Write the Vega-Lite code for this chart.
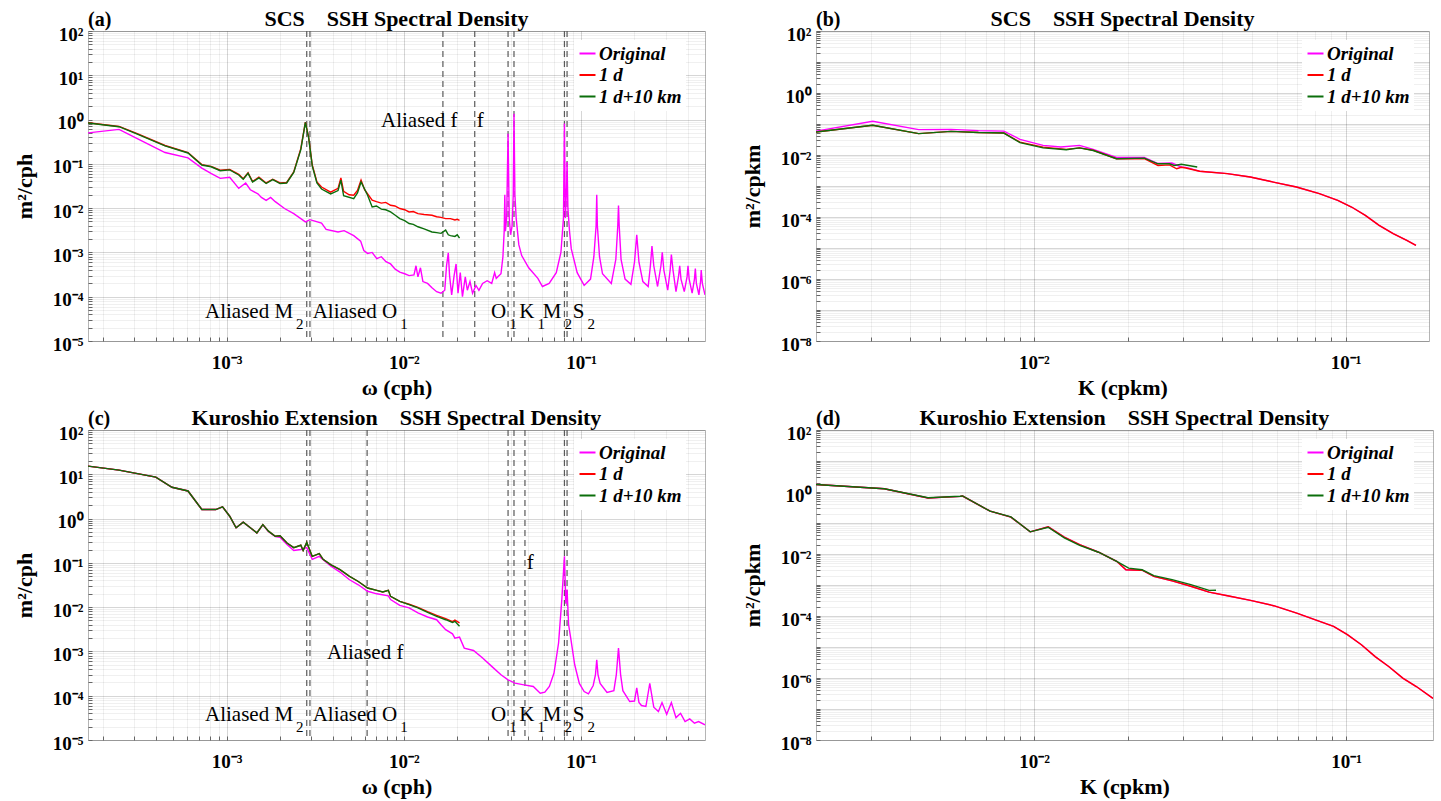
{
"$schema": "https://vega.github.io/schema/vega-lite/v6.json",
"background": "white",
"padding": {"left": 12, "top": 7, "right": 5, "bottom": 5},
"datasets": {
"aO": [{"freq":1.65e-4,"psd":0.50},{"freq":2.47e-4,"psd":0.60},{"freq":3.13e-4,"psd":0.37},{"freq":4.49e-4,"psd":0.18},{"freq":6.05e-4,"psd":0.136},{"freq":7.24e-4,"psd":0.080},{"freq":8.2e-4,"psd":0.060},{"freq":9.2e-4,"psd":0.047},{"freq":1.04e-3,"psd":0.050},{"freq":1.17e-3,"psd":0.028},{"freq":1.28e-3,"psd":0.037},{"freq":1.36e-3,"psd":0.026},{"freq":1.50e-3,"psd":0.021},{"freq":1.57e-3,"psd":0.0175},{"freq":1.67e-3,"psd":0.015},{"freq":1.77e-3,"psd":0.0175},{"freq":1.88e-3,"psd":0.014},{"freq":2.12e-3,"psd":0.0098},{"freq":2.39e-3,"psd":0.0075},{"freq":2.62e-3,"psd":0.0058},{"freq":2.78e-3,"psd":0.0049},{"freq":2.95e-3,"psd":0.0055},{"freq":3.04e-3,"psd":0.0053},{"freq":3.43e-3,"psd":0.0046},{"freq":3.64e-3,"psd":0.0033},{"freq":4.25e-3,"psd":0.0029},{"freq":4.6e-3,"psd":0.0031},{"freq":5.21e-3,"psd":0.0024},{"freq":5.7e-3,"psd":0.0018},{"freq":5.94e-3,"psd":0.0011},{"freq":6.24e-3,"psd":0.00095},{"freq":6.62e-3,"psd":0.0010},{"freq":7.03e-3,"psd":0.00072},{"freq":7.46e-3,"psd":0.0008},{"freq":7.92e-3,"psd":0.00062},{"freq":8.41e-3,"psd":0.00055},{"freq":8.93e-3,"psd":0.00042},{"freq":9.48e-3,"psd":0.00036},{"freq":1.01e-2,"psd":0.00033},{"freq":1.07e-2,"psd":0.0003},{"freq":1.14e-2,"psd":0.00031},{"freq":1.17e-2,"psd":0.0005},{"freq":1.2e-2,"psd":0.00028},{"freq":1.24e-2,"psd":0.00045},{"freq":1.28e-2,"psd":0.00022},{"freq":1.36e-2,"psd":0.0002},{"freq":1.44e-2,"psd":0.00016},{"freq":1.53e-2,"psd":0.00013},{"freq":1.62e-2,"psd":0.00012},{"freq":1.70e-2,"psd":0.00014},{"freq":1.74e-2,"psd":0.0005},{"freq":1.78e-2,"psd":0.00098},{"freq":1.81e-2,"psd":0.0003},{"freq":1.86e-2,"psd":0.00011},{"freq":1.92e-2,"psd":0.0003},{"freq":1.97e-2,"psd":0.00055},{"freq":2.02e-2,"psd":0.00012},{"freq":2.08e-2,"psd":0.00035},{"freq":2.14e-2,"psd":0.0001},{"freq":2.22e-2,"psd":0.00028},{"freq":2.28e-2,"psd":0.00014},{"freq":2.36e-2,"psd":0.00022},{"freq":2.44e-2,"psd":0.00012},{"freq":2.55e-2,"psd":0.00018},{"freq":2.65e-2,"psd":0.00014},{"freq":2.78e-2,"psd":0.0002},{"freq":2.95e-2,"psd":0.00023},{"freq":3.13e-2,"psd":0.0002},{"freq":3.25e-2,"psd":0.00035},{"freq":3.32e-2,"psd":0.00026},{"freq":3.53e-2,"psd":0.00033},{"freq":3.62e-2,"psd":0.0008},{"freq":3.68e-2,"psd":0.003},{"freq":3.71e-2,"psd":0.02},{"freq":3.74e-2,"psd":0.003},{"freq":3.80e-2,"psd":0.006},{"freq":3.87e-2,"psd":0.48},{"freq":3.93e-2,"psd":0.006},{"freq":4.0e-2,"psd":0.0025},{"freq":4.08e-2,"psd":0.004},{"freq":4.14e-2,"psd":0.02},{"freq":4.18e-2,"psd":1.36},{"freq":4.23e-2,"psd":0.02},{"freq":4.30e-2,"psd":0.006},{"freq":4.45e-2,"psd":0.0015},{"freq":4.62e-2,"psd":0.00085},{"freq":5.06e-2,"psd":0.00045},{"freq":5.7e-2,"psd":0.00026},{"freq":6.05e-2,"psd":0.00017},{"freq":6.6e-2,"psd":0.0002},{"freq":7.24e-2,"psd":0.00035},{"freq":7.69e-2,"psd":0.001},{"freq":7.95e-2,"psd":0.006},{"freq":8.05e-2,"psd":0.81},{"freq":8.15e-2,"psd":0.006},{"freq":8.28e-2,"psd":0.03},{"freq":8.33e-2,"psd":0.11},{"freq":8.42e-2,"psd":0.01},{"freq":8.6e-2,"psd":0.003},{"freq":8.8e-2,"psd":0.0012},{"freq":9.5e-2,"psd":0.00035},{"freq":0.104,"psd":0.00018},{"freq":0.113,"psd":0.00025},{"freq":0.118,"psd":0.0008},{"freq":0.1215,"psd":0.004},{"freq":0.1225,"psd":0.02},{"freq":0.1235,"psd":0.004},{"freq":0.127,"psd":0.0008},{"freq":0.132,"psd":0.00033},{"freq":0.148,"psd":0.0002},{"freq":0.157,"psd":0.0007},{"freq":0.161,"psd":0.004},{"freq":0.1625,"psd":0.0115},{"freq":0.164,"psd":0.004},{"freq":0.168,"psd":0.0007},{"freq":0.177,"psd":0.00025},{"freq":0.191,"psd":0.00019},{"freq":0.200,"psd":0.0006},{"freq":0.206,"psd":0.0025},{"freq":0.212,"psd":0.0006},{"freq":0.223,"psd":0.00022},{"freq":0.239,"psd":0.00017},{"freq":0.246,"psd":0.0005},{"freq":0.251,"psd":0.0014},{"freq":0.257,"psd":0.0005},{"freq":0.270,"psd":0.00017},{"freq":0.282,"psd":0.0005},{"freq":0.287,"psd":0.001},{"freq":0.293,"psd":0.0004},{"freq":0.308,"psd":0.00014},{"freq":0.318,"psd":0.0004},{"freq":0.323,"psd":0.0009},{"freq":0.330,"psd":0.0004},{"freq":0.343,"psd":0.00013},{"freq":0.355,"psd":0.0003},{"freq":0.360,"psd":0.0005},{"freq":0.366,"psd":0.00025},{"freq":0.382,"psd":0.00013},{"freq":0.396,"psd":0.00028},{"freq":0.401,"psd":0.0005},{"freq":0.407,"psd":0.00025},{"freq":0.423,"psd":0.00012},{"freq":0.436,"psd":0.00025},{"freq":0.441,"psd":0.00043},{"freq":0.447,"psd":0.0002},{"freq":0.462,"psd":0.00011},{"freq":0.472,"psd":0.00022},{"freq":0.476,"psd":0.0004},{"freq":0.483,"psd":0.0002},{"freq":0.5,"psd":0.00011}],
"aR": [{"freq":1.65e-4,"psd":0.85},{"freq":2.47e-4,"psd":0.70},{"freq":3.13e-4,"psd":0.48},{"freq":4.49e-4,"psd":0.26},{"freq":6.05e-4,"psd":0.18},{"freq":7.24e-4,"psd":0.096},{"freq":8.17e-4,"psd":0.088},{"freq":9.2e-4,"psd":0.072},{"freq":1.04e-3,"psd":0.075},{"freq":1.17e-3,"psd":0.058},{"freq":1.24e-3,"psd":0.046},{"freq":1.32e-3,"psd":0.063},{"freq":1.40e-3,"psd":0.040},{"freq":1.52e-3,"psd":0.050},{"freq":1.67e-3,"psd":0.037},{"freq":1.82e-3,"psd":0.045},{"freq":2.0e-3,"psd":0.037},{"freq":2.18e-3,"psd":0.038},{"freq":2.39e-3,"psd":0.066},{"freq":2.62e-3,"psd":0.22},{"freq":2.78e-3,"psd":0.88},{"freq":2.90e-3,"psd":0.40},{"freq":3.04e-3,"psd":0.094},{"freq":3.23e-3,"psd":0.039},{"freq":3.43e-3,"psd":0.030},{"freq":3.86e-3,"psd":0.023},{"freq":4.25e-3,"psd":0.028},{"freq":4.41e-3,"psd":0.048},{"freq":4.57e-3,"psd":0.024},{"freq":4.91e-3,"psd":0.020},{"freq":5.21e-3,"psd":0.0195},{"freq":5.47e-3,"psd":0.025},{"freq":5.73e-3,"psd":0.043},{"freq":6.0e-3,"psd":0.026},{"freq":6.62e-3,"psd":0.0151},{"freq":7.0e-3,"psd":0.0140},{"freq":7.46e-3,"psd":0.013},{"freq":7.9e-3,"psd":0.0135},{"freq":8.41e-3,"psd":0.0116},{"freq":8.9e-3,"psd":0.0112},{"freq":9.48e-3,"psd":0.0098},{"freq":1.01e-2,"psd":0.0092},{"freq":1.07e-2,"psd":0.0082},{"freq":1.13e-2,"psd":0.0084},{"freq":1.20e-2,"psd":0.0075},{"freq":1.30e-2,"psd":0.0072},{"freq":1.44e-2,"psd":0.0069},{"freq":1.53e-2,"psd":0.0064},{"freq":1.62e-2,"psd":0.0062},{"freq":1.72e-2,"psd":0.0058},{"freq":1.83e-2,"psd":0.0058},{"freq":1.94e-2,"psd":0.0054},{"freq":2.0e-2,"psd":0.0056},{"freq":2.06e-2,"psd":0.0053}],
"aG": [{"freq":1.65e-4,"psd":0.84},{"freq":2.47e-4,"psd":0.69},{"freq":3.13e-4,"psd":0.47},{"freq":4.49e-4,"psd":0.255},{"freq":6.05e-4,"psd":0.176},{"freq":7.24e-4,"psd":0.094},{"freq":8.17e-4,"psd":0.086},{"freq":9.2e-4,"psd":0.070},{"freq":1.04e-3,"psd":0.073},{"freq":1.17e-3,"psd":0.056},{"freq":1.24e-3,"psd":0.045},{"freq":1.32e-3,"psd":0.061},{"freq":1.40e-3,"psd":0.039},{"freq":1.52e-3,"psd":0.048},{"freq":1.67e-3,"psd":0.036},{"freq":1.82e-3,"psd":0.044},{"freq":2.0e-3,"psd":0.036},{"freq":2.18e-3,"psd":0.037},{"freq":2.39e-3,"psd":0.064},{"freq":2.62e-3,"psd":0.21},{"freq":2.78e-3,"psd":0.86},{"freq":2.90e-3,"psd":0.39},{"freq":3.04e-3,"psd":0.090},{"freq":3.23e-3,"psd":0.037},{"freq":3.43e-3,"psd":0.027},{"freq":3.86e-3,"psd":0.021},{"freq":4.25e-3,"psd":0.025},{"freq":4.41e-3,"psd":0.043},{"freq":4.57e-3,"psd":0.019},{"freq":5.21e-3,"psd":0.0164},{"freq":5.47e-3,"psd":0.022},{"freq":5.73e-3,"psd":0.039},{"freq":6.24e-3,"psd":0.0195},{"freq":6.62e-3,"psd":0.0106},{"freq":7.0e-3,"psd":0.0112},{"freq":7.46e-3,"psd":0.0095},{"freq":7.9e-3,"psd":0.0092},{"freq":8.41e-3,"psd":0.0082},{"freq":8.9e-3,"psd":0.0070},{"freq":9.48e-3,"psd":0.0058},{"freq":1.01e-2,"psd":0.0052},{"freq":1.07e-2,"psd":0.0045},{"freq":1.13e-2,"psd":0.0043},{"freq":1.20e-2,"psd":0.0038},{"freq":1.30e-2,"psd":0.0034},{"freq":1.44e-2,"psd":0.0029},{"freq":1.53e-2,"psd":0.0028},{"freq":1.62e-2,"psd":0.0027},{"freq":1.72e-2,"psd":0.0032},{"freq":1.78e-2,"psd":0.0025},{"freq":1.83e-2,"psd":0.0024},{"freq":1.94e-2,"psd":0.0023},{"freq":2.0e-2,"psd":0.0025},{"freq":2.06e-2,"psd":0.0021}],
"bO": [{"freq":2.0e-3,"psd":0.059},{"freq":3.04e-3,"psd":0.122},{"freq":4.27e-3,"psd":0.066},{"freq":5.42e-3,"psd":0.067},{"freq":6.64e-3,"psd":0.061},{"freq":8.01e-3,"psd":0.059},{"freq":9.02e-3,"psd":0.032},{"freq":1.07e-2,"psd":0.0205},{"freq":1.22e-2,"psd":0.0181},{"freq":1.40e-2,"psd":0.0205},{"freq":1.55e-2,"psd":0.0152},{"freq":1.84e-2,"psd":0.0084},{"freq":2.26e-2,"psd":0.0084},{"freq":2.50e-2,"psd":0.0053},{"freq":2.77e-2,"psd":0.0055},{"freq":2.97e-2,"psd":0.0041},{"freq":3.07e-2,"psd":0.0040},{"freq":3.40e-2,"psd":0.0030},{"freq":4.17e-2,"psd":0.0025},{"freq":4.94e-2,"psd":0.00195},{"freq":5.86e-2,"psd":0.00134},{"freq":6.95e-2,"psd":0.00093},{"freq":8.23e-2,"psd":0.00057},{"freq":9.43e-2,"psd":0.000345},{"freq":0.1044,"psd":0.00021},{"freq":0.1156,"psd":0.000113},{"freq":0.128,"psd":5.4e-5},{"freq":0.142,"psd":2.9e-5},{"freq":0.157,"psd":1.77e-5},{"freq":0.168,"psd":1.22e-5}],
"bR": [{"freq":2.0e-3,"psd":0.055},{"freq":3.04e-3,"psd":0.091},{"freq":4.27e-3,"psd":0.049},{"freq":5.42e-3,"psd":0.058},{"freq":6.64e-3,"psd":0.053},{"freq":8.01e-3,"psd":0.051},{"freq":9.02e-3,"psd":0.026},{"freq":1.07e-2,"psd":0.018},{"freq":1.27e-2,"psd":0.0152},{"freq":1.40e-2,"psd":0.017},{"freq":1.55e-2,"psd":0.0142},{"freq":1.84e-2,"psd":0.0076},{"freq":2.26e-2,"psd":0.0076},{"freq":2.50e-2,"psd":0.0046},{"freq":2.72e-2,"psd":0.0048},{"freq":2.87e-2,"psd":0.0036},{"freq":2.97e-2,"psd":0.0040},{"freq":3.07e-2,"psd":0.0038},{"freq":3.40e-2,"psd":0.0030},{"freq":4.17e-2,"psd":0.0025},{"freq":4.94e-2,"psd":0.00195},{"freq":5.86e-2,"psd":0.00134},{"freq":6.95e-2,"psd":0.00093},{"freq":8.23e-2,"psd":0.00057},{"freq":9.43e-2,"psd":0.000345},{"freq":0.1044,"psd":0.00021},{"freq":0.1156,"psd":0.000113},{"freq":0.128,"psd":5.4e-5},{"freq":0.142,"psd":2.9e-5},{"freq":0.157,"psd":1.77e-5},{"freq":0.168,"psd":1.22e-5}],
"bG": [{"freq":2.0e-3,"psd":0.055},{"freq":3.04e-3,"psd":0.091},{"freq":4.27e-3,"psd":0.049},{"freq":5.42e-3,"psd":0.058},{"freq":6.64e-3,"psd":0.053},{"freq":8.01e-3,"psd":0.051},{"freq":9.02e-3,"psd":0.025},{"freq":1.07e-2,"psd":0.017},{"freq":1.27e-2,"psd":0.0148},{"freq":1.40e-2,"psd":0.017},{"freq":1.55e-2,"psd":0.0140},{"freq":1.84e-2,"psd":0.0076},{"freq":2.26e-2,"psd":0.0079},{"freq":2.50e-2,"psd":0.0052},{"freq":2.72e-2,"psd":0.0052},{"freq":2.82e-2,"psd":0.0046},{"freq":2.97e-2,"psd":0.0050},{"freq":3.13e-2,"psd":0.0046},{"freq":3.34e-2,"psd":0.0041}],
"cO": [{"freq":1.65e-4,"psd":15.3},{"freq":2.47e-4,"psd":12.4},{"freq":3.98e-4,"psd":8.6},{"freq":4.91e-4,"psd":5.1},{"freq":6.05e-4,"psd":4.2},{"freq":7.24e-4,"psd":1.6},{"freq":8.67e-4,"psd":1.6},{"freq":9.48e-4,"psd":1.84},{"freq":1.04e-3,"psd":1.13},{"freq":1.13e-3,"psd":0.62},{"freq":1.24e-3,"psd":0.83},{"freq":1.36e-3,"psd":0.62},{"freq":1.48e-3,"psd":0.47},{"freq":1.60e-3,"psd":0.72},{"freq":1.72e-3,"psd":0.51},{"freq":1.88e-3,"psd":0.39},{"freq":2.0e-3,"psd":0.38},{"freq":2.19e-3,"psd":0.26},{"freq":2.39e-3,"psd":0.19},{"freq":2.62e-3,"psd":0.20},{"freq":2.83e-3,"psd":0.22},{"freq":3.04e-3,"psd":0.12},{"freq":3.33e-3,"psd":0.14},{"freq":3.86e-3,"psd":0.085},{"freq":4.36e-3,"psd":0.062},{"freq":4.91e-3,"psd":0.042},{"freq":5.53e-3,"psd":0.032},{"freq":6.24e-3,"psd":0.0228},{"freq":7.03e-3,"psd":0.020},{"freq":8.17e-3,"psd":0.018},{"freq":8.41e-3,"psd":0.0148},{"freq":9.48e-3,"psd":0.0110},{"freq":1.07e-2,"psd":0.0096},{"freq":1.20e-2,"psd":0.0074},{"freq":1.36e-2,"psd":0.0060},{"freq":1.53e-2,"psd":0.0052},{"freq":1.62e-2,"psd":0.0040},{"freq":1.72e-2,"psd":0.0031},{"freq":1.88e-2,"psd":0.0025},{"freq":1.94e-2,"psd":0.0020},{"freq":2.06e-2,"psd":0.0021},{"freq":2.19e-2,"psd":0.00119},{"freq":2.47e-2,"psd":0.00105},{"freq":2.78e-2,"psd":0.00071},{"freq":3.13e-2,"psd":0.00046},{"freq":3.53e-2,"psd":0.000297},{"freq":3.87e-2,"psd":0.000229},{"freq":4.23e-2,"psd":0.000192},{"freq":4.76e-2,"psd":0.000176},{"freq":5.37e-2,"psd":0.000162},{"freq":5.88e-2,"psd":0.000114},{"freq":6.24e-2,"psd":0.00012},{"freq":6.62e-2,"psd":0.000162},{"freq":7.03e-2,"psd":0.000324},{"freq":7.46e-2,"psd":0.00155},{"freq":7.78e-2,"psd":0.0148},{"freq":8.05e-2,"psd":0.14},{"freq":8.2e-2,"psd":0.012},{"freq":8.33e-2,"psd":0.025},{"freq":8.5e-2,"psd":0.004},{"freq":8.77e-2,"psd":0.0018},{"freq":9.2e-2,"psd":0.0005},{"freq":9.77e-2,"psd":0.00019},{"freq":0.104,"psd":0.000124},{"freq":0.110,"psd":0.00011},{"freq":0.117,"psd":0.00017},{"freq":0.1205,"psd":0.0003},{"freq":0.1225,"psd":0.00065},{"freq":0.1245,"psd":0.0003},{"freq":0.128,"psd":0.00019},{"freq":0.140,"psd":0.000118},{"freq":0.153,"psd":0.00013},{"freq":0.158,"psd":0.0003},{"freq":0.1625,"psd":0.00119},{"freq":0.167,"psd":0.0003},{"freq":0.172,"psd":0.00013},{"freq":0.188,"psd":7.4e-5},{"freq":0.200,"psd":7.6e-5},{"freq":0.206,"psd":0.00015},{"freq":0.212,"psd":7e-5},{"freq":0.219,"psd":6e-5},{"freq":0.232,"psd":5.7e-5},{"freq":0.244,"psd":0.00019},{"freq":0.257,"psd":5.5e-5},{"freq":0.273,"psd":4.4e-5},{"freq":0.286,"psd":7e-5},{"freq":0.304,"psd":3.8e-5},{"freq":0.323,"psd":7e-5},{"freq":0.343,"psd":3.2e-5},{"freq":0.364,"psd":4.0e-5},{"freq":0.386,"psd":2.6e-5},{"freq":0.410,"psd":3.0e-5},{"freq":0.436,"psd":2.4e-5},{"freq":0.46,"psd":2.6e-5},{"freq":0.5,"psd":2.2e-5}],
"cR": [{"freq":1.65e-4,"psd":15.3},{"freq":2.47e-4,"psd":12.4},{"freq":3.98e-4,"psd":8.6},{"freq":4.91e-4,"psd":5.1},{"freq":6.05e-4,"psd":4.2},{"freq":7.24e-4,"psd":1.6},{"freq":8.67e-4,"psd":1.6},{"freq":9.48e-4,"psd":1.84},{"freq":1.04e-3,"psd":1.13},{"freq":1.13e-3,"psd":0.62},{"freq":1.24e-3,"psd":0.83},{"freq":1.36e-3,"psd":0.62},{"freq":1.48e-3,"psd":0.475},{"freq":1.60e-3,"psd":0.73},{"freq":1.72e-3,"psd":0.52},{"freq":1.88e-3,"psd":0.40},{"freq":2.0e-3,"psd":0.41},{"freq":2.19e-3,"psd":0.28},{"freq":2.39e-3,"psd":0.22},{"freq":2.62e-3,"psd":0.25},{"freq":2.70e-3,"psd":0.19},{"freq":2.83e-3,"psd":0.29},{"freq":3.04e-3,"psd":0.14},{"freq":3.33e-3,"psd":0.162},{"freq":3.5e-3,"psd":0.12},{"freq":3.86e-3,"psd":0.091},{"freq":4.36e-3,"psd":0.070},{"freq":4.91e-3,"psd":0.050},{"freq":5.53e-3,"psd":0.038},{"freq":6.24e-3,"psd":0.027},{"freq":7.03e-3,"psd":0.024},{"freq":7.6e-3,"psd":0.022},{"freq":8.17e-3,"psd":0.024},{"freq":8.41e-3,"psd":0.0175},{"freq":9.48e-3,"psd":0.0135},{"freq":1.07e-2,"psd":0.0116},{"freq":1.20e-2,"psd":0.0099},{"freq":1.36e-2,"psd":0.0079},{"freq":1.53e-2,"psd":0.0065},{"freq":1.72e-2,"psd":0.0055},{"freq":1.88e-2,"psd":0.0047},{"freq":1.94e-2,"psd":0.0051},{"freq":2.06e-2,"psd":0.0044}],
"cG": [{"freq":1.65e-4,"psd":15.3},{"freq":2.47e-4,"psd":12.4},{"freq":3.98e-4,"psd":8.6},{"freq":4.91e-4,"psd":5.1},{"freq":6.05e-4,"psd":4.2},{"freq":7.24e-4,"psd":1.6},{"freq":8.67e-4,"psd":1.6},{"freq":9.48e-4,"psd":1.84},{"freq":1.04e-3,"psd":1.13},{"freq":1.13e-3,"psd":0.62},{"freq":1.24e-3,"psd":0.83},{"freq":1.36e-3,"psd":0.62},{"freq":1.48e-3,"psd":0.475},{"freq":1.60e-3,"psd":0.73},{"freq":1.72e-3,"psd":0.52},{"freq":1.88e-3,"psd":0.40},{"freq":2.0e-3,"psd":0.41},{"freq":2.19e-3,"psd":0.28},{"freq":2.39e-3,"psd":0.22},{"freq":2.62e-3,"psd":0.25},{"freq":2.70e-3,"psd":0.19},{"freq":2.83e-3,"psd":0.29},{"freq":3.04e-3,"psd":0.14},{"freq":3.33e-3,"psd":0.162},{"freq":3.5e-3,"psd":0.12},{"freq":3.86e-3,"psd":0.091},{"freq":4.36e-3,"psd":0.070},{"freq":4.91e-3,"psd":0.050},{"freq":5.53e-3,"psd":0.038},{"freq":6.24e-3,"psd":0.027},{"freq":7.03e-3,"psd":0.024},{"freq":7.6e-3,"psd":0.022},{"freq":8.17e-3,"psd":0.024},{"freq":8.41e-3,"psd":0.0175},{"freq":9.48e-3,"psd":0.0135},{"freq":1.07e-2,"psd":0.0114},{"freq":1.20e-2,"psd":0.0096},{"freq":1.36e-2,"psd":0.0076},{"freq":1.53e-2,"psd":0.0062},{"freq":1.72e-2,"psd":0.0052},{"freq":1.88e-2,"psd":0.0045},{"freq":1.94e-2,"psd":0.0048},{"freq":2.06e-2,"psd":0.0037}],
"dO": [{"freq":2.0e-3,"psd":1.75},{"freq":3.31e-3,"psd":1.27},{"freq":4.57e-3,"psd":0.64},{"freq":5.80e-3,"psd":0.72},{"freq":5.90e-3,"psd":0.74},{"freq":7.23e-3,"psd":0.24},{"freq":8.43e-3,"psd":0.155},{"freq":9.72e-3,"psd":0.052},{"freq":1.11e-2,"psd":0.075},{"freq":1.25e-2,"psd":0.035},{"freq":1.40e-2,"psd":0.020},{"freq":1.61e-2,"psd":0.0114},{"freq":1.84e-2,"psd":0.0058},{"freq":1.97e-2,"psd":0.0031},{"freq":2.22e-2,"psd":0.0030},{"freq":2.42e-2,"psd":0.0019},{"freq":2.77e-2,"psd":0.00136},{"freq":3.18e-2,"psd":0.00091},{"freq":3.64e-2,"psd":0.00059},{"freq":4.17e-2,"psd":0.00045},{"freq":4.94e-2,"psd":0.00032},{"freq":5.86e-2,"psd":0.000215},{"freq":6.95e-2,"psd":0.000124},{"freq":8.23e-2,"psd":6.7e-5},{"freq":9.12e-2,"psd":4.6e-5},{"freq":0.101,"psd":2.5e-5},{"freq":0.112,"psd":1.18e-5},{"freq":0.124,"psd":4.9e-6},{"freq":0.137,"psd":2.35e-6},{"freq":0.152,"psd":9.9e-7},{"freq":0.168,"psd":5.3e-7},{"freq":0.19,"psd":2.2e-7}],
"dR": [{"freq":2.0e-3,"psd":1.75},{"freq":3.31e-3,"psd":1.27},{"freq":4.57e-3,"psd":0.64},{"freq":5.80e-3,"psd":0.72},{"freq":5.90e-3,"psd":0.74},{"freq":7.23e-3,"psd":0.24},{"freq":8.43e-3,"psd":0.155},{"freq":9.72e-3,"psd":0.052},{"freq":1.11e-2,"psd":0.075},{"freq":1.25e-2,"psd":0.035},{"freq":1.40e-2,"psd":0.020},{"freq":1.61e-2,"psd":0.0114},{"freq":1.84e-2,"psd":0.0058},{"freq":1.97e-2,"psd":0.0031},{"freq":2.22e-2,"psd":0.0030},{"freq":2.42e-2,"psd":0.0019},{"freq":2.77e-2,"psd":0.00136},{"freq":3.18e-2,"psd":0.00091},{"freq":3.64e-2,"psd":0.00059},{"freq":4.17e-2,"psd":0.00045},{"freq":4.94e-2,"psd":0.00032},{"freq":5.86e-2,"psd":0.000215},{"freq":6.95e-2,"psd":0.000124},{"freq":8.23e-2,"psd":6.7e-5},{"freq":9.12e-2,"psd":4.6e-5},{"freq":0.101,"psd":2.5e-5},{"freq":0.112,"psd":1.18e-5},{"freq":0.124,"psd":4.9e-6},{"freq":0.137,"psd":2.35e-6},{"freq":0.152,"psd":9.9e-7},{"freq":0.168,"psd":5.3e-7},{"freq":0.19,"psd":2.2e-7}],
"dG": [{"freq":2.0e-3,"psd":1.75},{"freq":3.31e-3,"psd":1.27},{"freq":4.57e-3,"psd":0.65},{"freq":5.80e-3,"psd":0.73},{"freq":5.90e-3,"psd":0.75},{"freq":7.23e-3,"psd":0.24},{"freq":8.43e-3,"psd":0.158},{"freq":9.72e-3,"psd":0.052},{"freq":1.11e-2,"psd":0.073},{"freq":1.25e-2,"psd":0.033},{"freq":1.40e-2,"psd":0.019},{"freq":1.61e-2,"psd":0.0114},{"freq":1.84e-2,"psd":0.0058},{"freq":2.01e-2,"psd":0.0035},{"freq":2.22e-2,"psd":0.0031},{"freq":2.42e-2,"psd":0.0020},{"freq":2.77e-2,"psd":0.00149},{"freq":3.18e-2,"psd":0.00103},{"freq":3.64e-2,"psd":0.00067},{"freq":3.83e-2,"psd":0.00068}],
"aRules": [{"freq":2.83e-3},{"freq":2.95e-3},{"freq":1.66e-2},{"freq":2.51e-2},{"freq":3.87e-2},{"freq":4.18e-2},{"freq":8.05e-2},{"freq":8.33e-2}],
"cRules": [{"freq":2.83e-3},{"freq":2.95e-3},{"freq":6.2e-3},{"freq":3.87e-2},{"freq":4.18e-2},{"freq":4.82e-2},{"freq":8.05e-2},{"freq":8.33e-2}],
"aMid": [{"label":"Aliased f","freq":1.22e-2,"psd":0.68},{"label":"f","freq":2.70e-2,"psd":0.68}],
"cMid": [{"label":"Aliased f","freq":6.05e-3,"psd":6.9e-4},{"label":"f","freq":5.16e-2,"psd":0.0716}],
"aTide": [{"main":"Aliased M","sub":"2","freq":2.40e-3,"psd":3.3e-5},{"main":"Aliased O","sub":"1","freq":9.29e-3,"psd":3.3e-5},{"main":"O","sub":"1","freq":3.83e-2,"psd":3.3e-5},{"main":"K","sub":"1","freq":5.52e-2,"psd":3.3e-5},{"main":"M","sub":"2","freq":7.84e-2,"psd":3.3e-5},{"main":"S","sub":"2","freq":0.1057,"psd":3.3e-5}],
"cTide": [{"main":"Aliased M","sub":"2","freq":2.40e-3,"psd":2.7e-5},{"main":"Aliased O","sub":"1","freq":9.29e-3,"psd":2.7e-5},{"main":"O","sub":"1","freq":3.83e-2,"psd":2.7e-5},{"main":"K","sub":"1","freq":5.52e-2,"psd":2.7e-5},{"main":"M","sub":"2","freq":7.84e-2,"psd":2.7e-5},{"main":"S","sub":"2","freq":0.1057,"psd":2.7e-5}]
},
"columns": 2,
"spacing": {"row": 89, "column": 111},
"bounds": "flush",
"resolve": {"scale": {"color": "independent"}, "legend": {"color": "independent"}},
"concat": [
{
 "width": 617, "height": 310,
 "layer": [
  {"data": {"name": "aRules"}, "mark": {"type": "rule", "color": "#5a5a5a", "strokeDash": [6, 4], "strokeWidth": 1.2},
   "encoding": {"x": {"field": "freq", "type": "quantitative",
     "scale": {"type": "log", "domain": [0.000165, 0.5], "nice": false},
     "axis": {"title": "ω (cph)", "values": [0.0002,0.0003,0.0004,0.0005,0.0006,0.0007,0.0008,0.0009,0.001,0.002,0.003,0.004,0.005,0.006,0.007,0.008,0.009,0.01,0.02,0.03,0.04,0.05,0.06,0.07,0.08,0.09,0.1,0.2,0.3,0.4],
       "labelExpr": "abs(log(datum.value)/LN10 - round(log(datum.value)/LN10)) < 0.000001 ? '10' + (datum.value < 1 ? '⁻' : '') + substring('⁰¹²³⁴⁵⁶⁷⁸⁹', abs(round(log(datum.value)/LN10)), abs(round(log(datum.value)/LN10)) + 1) : ''",
       "gridOpacity": {"condition": {"test": "abs(log(datum.value)/LN10 - round(log(datum.value)/LN10)) < 0.000001", "value": 0.16}, "value": 0.06}}}}},
  {"data": {"name": "aO"}, "mark": {"type": "line", "strokeWidth": 1.4, "clip": true},
   "encoding": {"x": {"field": "freq", "type": "quantitative"},
    "y": {"field": "psd", "type": "quantitative", "scale": {"type": "log", "domain": [0.00001, 100], "nice": false},
     "axis": {"title": "m²/cph", "values": [0.00001,0.00002,0.00003,0.00004,0.00005,0.00006,0.00007,0.00008,0.00009,0.0001,0.0002,0.0003,0.0004,0.0005,0.0006,0.0007,0.0008,0.0009,0.001,0.002,0.003,0.004,0.005,0.006,0.007,0.008,0.009,0.01,0.02,0.03,0.04,0.05,0.06,0.07,0.08,0.09,0.1,0.2,0.3,0.4,0.5,0.6,0.7,0.8,0.9,1,2,3,4,5,6,7,8,9,10,20,30,40,50,60,70,80,90,100],
       "labelExpr": "abs(log(datum.value)/LN10 - round(log(datum.value)/LN10)) < 0.000001 ? '10' + (datum.value < 1 ? '⁻' : '') + substring('⁰¹²³⁴⁵⁶⁷⁸⁹', abs(round(log(datum.value)/LN10)), abs(round(log(datum.value)/LN10)) + 1) : ''",
       "gridOpacity": {"condition": {"test": "abs(log(datum.value)/LN10 - round(log(datum.value)/LN10)) < 0.000001", "value": 0.16}, "value": 0.06}}},
    "color": {"datum": "Original", "scale": {"domain": ["Original", "1 d", "1 d+10 km"], "range": ["#ff00ff", "#ff0000", "#0b6e0b"]}, "legend": {"title": null}}}},
  {"data": {"name": "aR"}, "mark": {"type": "line", "strokeWidth": 1.4, "clip": true},
   "encoding": {"x": {"field": "freq", "type": "quantitative"}, "y": {"field": "psd", "type": "quantitative"}, "color": {"datum": "1 d"}}},
  {"data": {"name": "aG"}, "mark": {"type": "line", "strokeWidth": 1.4, "clip": true},
   "encoding": {"x": {"field": "freq", "type": "quantitative"}, "y": {"field": "psd", "type": "quantitative"}, "color": {"datum": "1 d+10 km"}}},
  {"data": {"name": "aMid"}, "mark": {"type": "text", "font": "Liberation Serif", "fontSize": 21, "baseline": "alphabetic", "color": "black"},
   "encoding": {"x": {"field": "freq", "type": "quantitative"}, "y": {"field": "psd", "type": "quantitative"}, "text": {"field": "label"}}},
  {"data": {"name": "aTide"}, "mark": {"type": "text", "font": "Liberation Serif", "fontSize": 21, "baseline": "alphabetic", "align": "right", "dx": -1, "color": "black"},
   "encoding": {"x": {"field": "freq", "type": "quantitative"}, "y": {"field": "psd", "type": "quantitative"}, "text": {"field": "main"}}},
  {"data": {"name": "aTide"}, "mark": {"type": "text", "font": "Liberation Serif", "fontSize": 15, "baseline": "alphabetic", "align": "left", "dx": 2, "dy": 11, "color": "black"},
   "encoding": {"x": {"field": "freq", "type": "quantitative"}, "y": {"field": "psd", "type": "quantitative"}, "text": {"field": "sub"}}},
  {"data": {"values": [{"label": "(a)"}]}, "mark": {"type": "text", "font": "Liberation Serif", "fontSize": 20, "fontWeight": "bold", "align": "left", "baseline": "alphabetic", "dy": -5, "color": "black"},
   "encoding": {"x": {"datum": 0.000165}, "y": {"datum": 100}, "text": {"field": "label"}}},
  {"data": {"values": [{"label": "SCS\u00a0\u00a0\u00a0\u00a0SSH Spectral Density"}]}, "mark": {"type": "text", "font": "Liberation Serif", "fontSize": 22, "fontWeight": "bold", "align": "center", "baseline": "alphabetic", "dy": -5, "color": "black"},
   "encoding": {"x": {"datum": 0.00908}, "y": {"datum": 100}, "text": {"field": "label"}}}
 ]
},
{
 "width": 613, "height": 310,
 "layer": [
  {"data": {"name": "bO"}, "mark": {"type": "line", "strokeWidth": 1.4, "clip": true},
   "encoding": {"x": {"field": "freq", "type": "quantitative",
     "scale": {"type": "log", "domain": [0.002, 0.185], "nice": false},
     "axis": {"title": "K (cpkm)", "values": [0.003,0.004,0.005,0.006,0.007,0.008,0.009,0.01,0.02,0.03,0.04,0.05,0.06,0.07,0.08,0.09,0.1],
       "labelExpr": "abs(log(datum.value)/LN10 - round(log(datum.value)/LN10)) < 0.000001 ? '10' + (datum.value < 1 ? '⁻' : '') + substring('⁰¹²³⁴⁵⁶⁷⁸⁹', abs(round(log(datum.value)/LN10)), abs(round(log(datum.value)/LN10)) + 1) : ''",
       "gridOpacity": {"condition": {"test": "abs(log(datum.value)/LN10 - round(log(datum.value)/LN10)) < 0.000001", "value": 0.16}, "value": 0.06}}},
    "y": {"field": "psd", "type": "quantitative", "scale": {"type": "log", "domain": [1e-8, 100], "nice": false},
     "axis": {"title": "m²/cpkm", "values": [1e-8,2e-8,3e-8,4e-8,5e-8,6e-8,7e-8,8e-8,9e-8,1e-7,2e-7,3e-7,4e-7,5e-7,6e-7,7e-7,8e-7,9e-7,1e-6,2e-6,3e-6,4e-6,5e-6,6e-6,7e-6,8e-6,9e-6,1e-5,2e-5,3e-5,4e-5,5e-5,6e-5,7e-5,8e-5,9e-5,1e-4,2e-4,3e-4,4e-4,5e-4,6e-4,7e-4,8e-4,9e-4,1e-3,2e-3,3e-3,4e-3,5e-3,6e-3,7e-3,8e-3,9e-3,0.01,0.02,0.03,0.04,0.05,0.06,0.07,0.08,0.09,0.1,0.2,0.3,0.4,0.5,0.6,0.7,0.8,0.9,1,2,3,4,5,6,7,8,9,10,20,30,40,50,60,70,80,90,100],
       "labelExpr": "abs(log(datum.value)/LN10 - round(log(datum.value)/LN10)) < 0.000001 && round(log(datum.value)/LN10) % 2 == 0 ? '10' + (datum.value < 1 ? '⁻' : '') + substring('⁰¹²³⁴⁵⁶⁷⁸⁹', abs(round(log(datum.value)/LN10)), abs(round(log(datum.value)/LN10)) + 1) : ''",
       "gridOpacity": {"condition": {"test": "abs(log(datum.value)/LN10 - round(log(datum.value)/LN10)) < 0.000001", "value": 0.16}, "value": 0.06}}},
    "color": {"datum": "Original", "scale": {"domain": ["Original", "1 d", "1 d+10 km"], "range": ["#ff00ff", "#ff0000", "#0b6e0b"]}, "legend": {"title": null}}}},
  {"data": {"name": "bR"}, "mark": {"type": "line", "strokeWidth": 1.4, "clip": true},
   "encoding": {"x": {"field": "freq", "type": "quantitative"}, "y": {"field": "psd", "type": "quantitative"}, "color": {"datum": "1 d"}}},
  {"data": {"name": "bG"}, "mark": {"type": "line", "strokeWidth": 1.4, "clip": true},
   "encoding": {"x": {"field": "freq", "type": "quantitative"}, "y": {"field": "psd", "type": "quantitative"}, "color": {"datum": "1 d+10 km"}}},
  {"data": {"values": [{"label": "(b)"}]}, "mark": {"type": "text", "font": "Liberation Serif", "fontSize": 20, "fontWeight": "bold", "align": "left", "baseline": "alphabetic", "dy": -5, "color": "black"},
   "encoding": {"x": {"datum": 0.002}, "y": {"datum": 100}, "text": {"field": "label"}}},
  {"data": {"values": [{"label": "SCS\u00a0\u00a0\u00a0\u00a0SSH Spectral Density"}]}, "mark": {"type": "text", "font": "Liberation Serif", "fontSize": 22, "fontWeight": "bold", "align": "center", "baseline": "alphabetic", "dy": -5, "color": "black"},
   "encoding": {"x": {"datum": 0.01924}, "y": {"datum": 100}, "text": {"field": "label"}}}
 ]
},
{
 "width": 617, "height": 310,
 "layer": [
  {"data": {"name": "cRules"}, "mark": {"type": "rule", "color": "#5a5a5a", "strokeDash": [6, 4], "strokeWidth": 1.2},
   "encoding": {"x": {"field": "freq", "type": "quantitative",
     "scale": {"type": "log", "domain": [0.000165, 0.5], "nice": false},
     "axis": {"title": "ω (cph)", "values": [0.0002,0.0003,0.0004,0.0005,0.0006,0.0007,0.0008,0.0009,0.001,0.002,0.003,0.004,0.005,0.006,0.007,0.008,0.009,0.01,0.02,0.03,0.04,0.05,0.06,0.07,0.08,0.09,0.1,0.2,0.3,0.4],
       "labelExpr": "abs(log(datum.value)/LN10 - round(log(datum.value)/LN10)) < 0.000001 ? '10' + (datum.value < 1 ? '⁻' : '') + substring('⁰¹²³⁴⁵⁶⁷⁸⁹', abs(round(log(datum.value)/LN10)), abs(round(log(datum.value)/LN10)) + 1) : ''",
       "gridOpacity": {"condition": {"test": "abs(log(datum.value)/LN10 - round(log(datum.value)/LN10)) < 0.000001", "value": 0.16}, "value": 0.06}}}}},
  {"data": {"name": "cO"}, "mark": {"type": "line", "strokeWidth": 1.4, "clip": true},
   "encoding": {"x": {"field": "freq", "type": "quantitative"},
    "y": {"field": "psd", "type": "quantitative", "scale": {"type": "log", "domain": [0.00001, 100], "nice": false},
     "axis": {"title": "m²/cph", "values": [0.00001,0.00002,0.00003,0.00004,0.00005,0.00006,0.00007,0.00008,0.00009,0.0001,0.0002,0.0003,0.0004,0.0005,0.0006,0.0007,0.0008,0.0009,0.001,0.002,0.003,0.004,0.005,0.006,0.007,0.008,0.009,0.01,0.02,0.03,0.04,0.05,0.06,0.07,0.08,0.09,0.1,0.2,0.3,0.4,0.5,0.6,0.7,0.8,0.9,1,2,3,4,5,6,7,8,9,10,20,30,40,50,60,70,80,90,100],
       "labelExpr": "abs(log(datum.value)/LN10 - round(log(datum.value)/LN10)) < 0.000001 ? '10' + (datum.value < 1 ? '⁻' : '') + substring('⁰¹²³⁴⁵⁶⁷⁸⁹', abs(round(log(datum.value)/LN10)), abs(round(log(datum.value)/LN10)) + 1) : ''",
       "gridOpacity": {"condition": {"test": "abs(log(datum.value)/LN10 - round(log(datum.value)/LN10)) < 0.000001", "value": 0.16}, "value": 0.06}}},
    "color": {"datum": "Original", "scale": {"domain": ["Original", "1 d", "1 d+10 km"], "range": ["#ff00ff", "#ff0000", "#0b6e0b"]}, "legend": {"title": null}}}},
  {"data": {"name": "cR"}, "mark": {"type": "line", "strokeWidth": 1.4, "clip": true},
   "encoding": {"x": {"field": "freq", "type": "quantitative"}, "y": {"field": "psd", "type": "quantitative"}, "color": {"datum": "1 d"}}},
  {"data": {"name": "cG"}, "mark": {"type": "line", "strokeWidth": 1.4, "clip": true},
   "encoding": {"x": {"field": "freq", "type": "quantitative"}, "y": {"field": "psd", "type": "quantitative"}, "color": {"datum": "1 d+10 km"}}},
  {"data": {"name": "cMid"}, "mark": {"type": "text", "font": "Liberation Serif", "fontSize": 21, "baseline": "alphabetic", "color": "black"},
   "encoding": {"x": {"field": "freq", "type": "quantitative"}, "y": {"field": "psd", "type": "quantitative"}, "text": {"field": "label"}}},
  {"data": {"name": "cTide"}, "mark": {"type": "text", "font": "Liberation Serif", "fontSize": 21, "baseline": "alphabetic", "align": "right", "dx": -1, "color": "black"},
   "encoding": {"x": {"field": "freq", "type": "quantitative"}, "y": {"field": "psd", "type": "quantitative"}, "text": {"field": "main"}}},
  {"data": {"name": "cTide"}, "mark": {"type": "text", "font": "Liberation Serif", "fontSize": 15, "baseline": "alphabetic", "align": "left", "dx": 2, "dy": 11, "color": "black"},
   "encoding": {"x": {"field": "freq", "type": "quantitative"}, "y": {"field": "psd", "type": "quantitative"}, "text": {"field": "sub"}}},
  {"data": {"values": [{"label": "(c)"}]}, "mark": {"type": "text", "font": "Liberation Serif", "fontSize": 20, "fontWeight": "bold", "align": "left", "baseline": "alphabetic", "dy": -5, "color": "black"},
   "encoding": {"x": {"datum": 0.000165}, "y": {"datum": 100}, "text": {"field": "label"}}},
  {"data": {"values": [{"label": "Kuroshio Extension\u00a0\u00a0\u00a0\u00a0SSH Spectral Density"}]}, "mark": {"type": "text", "font": "Liberation Serif", "fontSize": 22, "fontWeight": "bold", "align": "center", "baseline": "alphabetic", "dy": -5, "color": "black"},
   "encoding": {"x": {"datum": 0.00908}, "y": {"datum": 100}, "text": {"field": "label"}}}
 ]
},
{
 "width": 617, "height": 310,
 "layer": [
  {"data": {"name": "dO"}, "mark": {"type": "line", "strokeWidth": 1.4, "clip": true},
   "encoding": {"x": {"field": "freq", "type": "quantitative",
     "scale": {"type": "log", "domain": [0.002, 0.19], "nice": false},
     "axis": {"title": "K (cpkm)", "values": [0.003,0.004,0.005,0.006,0.007,0.008,0.009,0.01,0.02,0.03,0.04,0.05,0.06,0.07,0.08,0.09,0.1],
       "labelExpr": "abs(log(datum.value)/LN10 - round(log(datum.value)/LN10)) < 0.000001 ? '10' + (datum.value < 1 ? '⁻' : '') + substring('⁰¹²³⁴⁵⁶⁷⁸⁹', abs(round(log(datum.value)/LN10)), abs(round(log(datum.value)/LN10)) + 1) : ''",
       "gridOpacity": {"condition": {"test": "abs(log(datum.value)/LN10 - round(log(datum.value)/LN10)) < 0.000001", "value": 0.16}, "value": 0.06}}},
    "y": {"field": "psd", "type": "quantitative", "scale": {"type": "log", "domain": [1e-8, 100], "nice": false},
     "axis": {"title": "m²/cpkm", "values": [1e-8,2e-8,3e-8,4e-8,5e-8,6e-8,7e-8,8e-8,9e-8,1e-7,2e-7,3e-7,4e-7,5e-7,6e-7,7e-7,8e-7,9e-7,1e-6,2e-6,3e-6,4e-6,5e-6,6e-6,7e-6,8e-6,9e-6,1e-5,2e-5,3e-5,4e-5,5e-5,6e-5,7e-5,8e-5,9e-5,1e-4,2e-4,3e-4,4e-4,5e-4,6e-4,7e-4,8e-4,9e-4,1e-3,2e-3,3e-3,4e-3,5e-3,6e-3,7e-3,8e-3,9e-3,0.01,0.02,0.03,0.04,0.05,0.06,0.07,0.08,0.09,0.1,0.2,0.3,0.4,0.5,0.6,0.7,0.8,0.9,1,2,3,4,5,6,7,8,9,10,20,30,40,50,60,70,80,90,100],
       "labelExpr": "abs(log(datum.value)/LN10 - round(log(datum.value)/LN10)) < 0.000001 && round(log(datum.value)/LN10) % 2 == 0 ? '10' + (datum.value < 1 ? '⁻' : '') + substring('⁰¹²³⁴⁵⁶⁷⁸⁹', abs(round(log(datum.value)/LN10)), abs(round(log(datum.value)/LN10)) + 1) : ''",
       "gridOpacity": {"condition": {"test": "abs(log(datum.value)/LN10 - round(log(datum.value)/LN10)) < 0.000001", "value": 0.16}, "value": 0.06}}},
    "color": {"datum": "Original", "scale": {"domain": ["Original", "1 d", "1 d+10 km"], "range": ["#ff00ff", "#ff0000", "#0b6e0b"]}, "legend": {"title": null}}}},
  {"data": {"name": "dR"}, "mark": {"type": "line", "strokeWidth": 1.4, "clip": true},
   "encoding": {"x": {"field": "freq", "type": "quantitative"}, "y": {"field": "psd", "type": "quantitative"}, "color": {"datum": "1 d"}}},
  {"data": {"name": "dG"}, "mark": {"type": "line", "strokeWidth": 1.4, "clip": true},
   "encoding": {"x": {"field": "freq", "type": "quantitative"}, "y": {"field": "psd", "type": "quantitative"}, "color": {"datum": "1 d+10 km"}}},
  {"data": {"values": [{"label": "(d)"}]}, "mark": {"type": "text", "font": "Liberation Serif", "fontSize": 20, "fontWeight": "bold", "align": "left", "baseline": "alphabetic", "dy": -5, "color": "black"},
   "encoding": {"x": {"datum": 0.002}, "y": {"datum": 100}, "text": {"field": "label"}}},
  {"data": {"values": [{"label": "Kuroshio Extension\u00a0\u00a0\u00a0\u00a0SSH Spectral Density"}]}, "mark": {"type": "text", "font": "Liberation Serif", "fontSize": 22, "fontWeight": "bold", "align": "center", "baseline": "alphabetic", "dy": -5, "color": "black"},
   "encoding": {"x": {"datum": 0.01949}, "y": {"datum": 100}, "text": {"field": "label"}}}
 ]
}
],
"config": {
 "view": {"stroke": "#b5b5b5", "strokeWidth": 1},
 "font": "Liberation Serif",
 "axis": {"labelFont": "Liberation Serif", "labelFontSize": 19, "labelFontWeight": "bold", "labelColor": "black", "titleFont": "Liberation Serif", "titleFontSize": 22, "titleFontWeight": "bold", "titleColor": "black", "domain": false, "gridColor": "#000000", "ticks": true, "tickColor": "#666666", "tickSize": -4, "labelOverlap": false, "labelFlush": false},
 "axisX": {"labelPadding": 16, "titlePadding": 5},
 "axisY": {"labelPadding": 9, "titlePadding": 16, "labelOffset": 3},
 "legend": {"orient": "none", "legendX": 486, "legendY": 9, "labelFont": "Liberation Serif", "labelFontSize": 19, "labelFontWeight": "bold", "labelFontStyle": "italic", "labelColor": "black", "symbolType": "stroke", "symbolSize": 256, "symbolStrokeWidth": 2, "labelOffset": 2, "rowPadding": 1.5, "padding": 4, "fillColor": "white"}
}
}
